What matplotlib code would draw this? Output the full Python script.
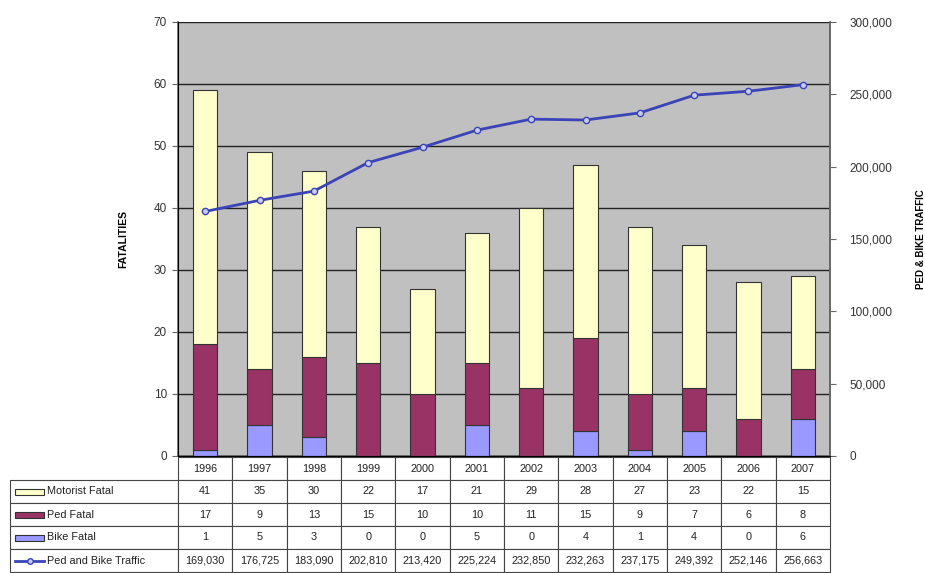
import matplotlib
matplotlib.use('Agg')
import matplotlib.pyplot as plt
from matplotlib.patches import Rectangle
from matplotlib.lines import Line2D
import numpy as np

years = ['1996', '1997', '1998', '1999', '2000', '2001', '2002', '2003', '2004', '2005', '2006', '2007']
motorist = [41, 35, 30, 22, 17, 21, 29, 28, 27, 23, 22, 15]
ped = [17, 9, 13, 15, 10, 10, 11, 15, 9, 7, 6, 8]
bike = [1, 5, 3, 0, 0, 5, 0, 4, 1, 4, 0, 6]
traffic = [169030, 176725, 183090, 202810, 213420, 225224, 232850, 232263, 237175, 249392, 252146, 256663]
series_labels = ['Motorist Fatal', 'Ped Fatal', 'Bike Fatal', 'Ped and Bike Traffic']
left_ticks = [0, 10, 20, 30, 40, 50, 60, 70]
right_ticks = [0, 50000, 100000, 150000, 200000, 250000, 300000]

plt.rcParams['font.family'] = ['Liberation Sans', 'DejaVu Sans']

c_mot = '#FFFFCC'
c_ped = '#993366'
c_bike = '#9999FF'
c_line = '#3A44B8'
edge = '#333333'

W, H = 925, 573
fig = plt.figure(figsize=(W / 100, H / 100), dpi=100)
L, R, T, B = 178, 830, 22, 456
ax = fig.add_axes([L / W, 1 - B / H, (R - L) / W, (B - T) / H])
ax.set_facecolor('#C0C0C0')

x = np.arange(len(years))
bw = 0.45
ped_bottom = np.array(bike)
mot_bottom = np.array(bike) + np.array(ped)
ax.bar(x, bike, bw, color=c_bike, edgecolor=edge, linewidth=0.8, zorder=3)
ax.bar(x, ped, bw, bottom=ped_bottom, color=c_ped, edgecolor=edge, linewidth=0.8, zorder=3)
ax.bar(x, motorist, bw, bottom=mot_bottom, color=c_mot, edgecolor=edge, linewidth=0.8, zorder=3)

ax.set_xlim(-0.5, len(years) - 0.5)
ax.set_ylim(0, 70)
ax.set_yticks(left_ticks)
ax.set_yticklabels([str(t) for t in left_ticks], fontsize=8.5, color='#333333')
ax.set_xticks([])
ax.grid(axis='y', color='#222222', linewidth=1.0, zorder=1)
ax.set_axisbelow(True)
ax.spines['top'].set_visible(False)
for s in ['left', 'right', 'bottom']:
    ax.spines[s].set_color('#666666')
    ax.spines[s].set_linewidth(1.2)
ax.tick_params(axis='y', length=4, color='#666666', pad=4)
ax.set_ylabel('FATALITIES', fontsize=7.5, fontweight='bold')
ax.yaxis.set_label_coords((128 - L) / (R - L), 0.5)

ax2 = ax.twinx()
ax2.plot(x, traffic, color=c_line, linewidth=2, marker='o', markersize=4.5,
         markerfacecolor='#C8CCEE', markeredgecolor=c_line, markeredgewidth=1, zorder=5)
ax2.set_ylim(0, 300000)
ax2.set_yticks(right_ticks)
ax2.set_yticklabels([f'{t:,}' for t in right_ticks], fontsize=8.5, color='#333333')
ax2.tick_params(axis='y', length=4, color='#666666', pad=10)
ax2.spines['top'].set_visible(False)
ax2.spines['right'].set_color('#666666')
ax2.spines['right'].set_linewidth(1.2)
ax2.set_ylabel('PED & BIKE TRAFFIC', fontsize=7, fontweight='bold', rotation=90)
ax2.yaxis.set_label_position('right')
ax2.yaxis.set_label_coords((916 - L) / (R - L), 0.5)

# data table
rows = [[''] + years,
        [series_labels[0]] + [str(v) for v in motorist],
        [series_labels[1]] + [str(v) for v in ped],
        [series_labels[2]] + [str(v) for v in bike],
        [series_labels[3]] + [f'{v:,}' for v in traffic]]
tL, tR, tT, tB = 10, 830, 457, 572
aw, ah = R - L, B - T
label_w = L - tL
col_w = (R - L) / len(years)
colWidths = [label_w / (tR - tL)] + [col_w / (tR - tL)] * len(years)
tab = ax.table(cellText=rows, cellLoc='center', colWidths=colWidths,
               bbox=[(tL - L) / aw, (B - tB) / ah, (tR - tL) / aw, (tB - tT) / ah])
tab.auto_set_font_size(False)
for (r, c), cell in tab.get_celld().items():
    cell.set_edgecolor('#444444')
    cell.set_linewidth(0.8)
    cell.set_facecolor('white')
    cell.get_text().set_fontsize(7.8)
    cell.get_text().set_color('#222222')
    if c == 0:
        if r == 0:
            cell.visible_edges = ''
        else:
            cell.get_text().set_ha('left')
            cell._loc = 'left'
            cell.PAD = 0.22

# legend keys in table
row_h = (tB - tT) / 5
def fy(py):
    return 1 - py / H
kx0, kx1 = 15, 44
for i, col in enumerate([c_mot, c_ped, c_bike]):
    cy = tT + row_h * (i + 1.5)
    fig.add_artist(Rectangle((kx0 / W, fy(cy + 3)), (kx1 - kx0) / W, 6 / H,
                             transform=fig.transFigure, facecolor=col, edgecolor=edge, linewidth=0.8))
cy = tT + row_h * 4.5
fig.add_artist(Line2D([kx0 / W, kx1 / W], [fy(cy), fy(cy)], transform=fig.transFigure,
                      color=c_line, linewidth=2))
fig.add_artist(Line2D([(kx0 + kx1) / 2 / W], [fy(cy)], transform=fig.transFigure,
                      marker='o', markersize=4, color=c_line, markerfacecolor='#C8CCEE'))

fig.savefig('out.png', dpi=100)
